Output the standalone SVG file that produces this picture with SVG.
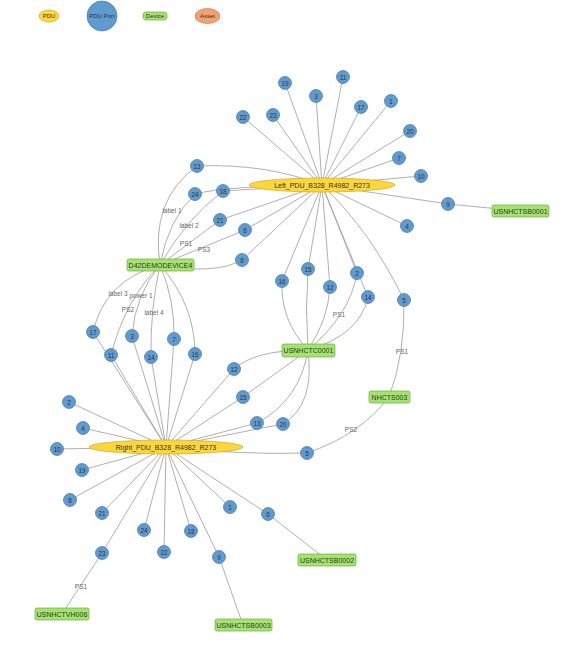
<svg xmlns="http://www.w3.org/2000/svg" width="570" height="658" viewBox="0 0 570 658">
<style>
.e{fill:none;stroke:#9a9a9a;stroke-width:0.8}
.p circle{fill:#5f9bd1;stroke:#44739f;stroke-width:0.7}
.pdu ellipse{fill:#fdd73a;stroke:#c9aa30;stroke-width:0.7}
.dev rect{fill:#a3e46c;stroke:#74a84a;stroke-width:0.7}
text{font-family:"Liberation Sans",Arial,sans-serif;fill:#333;text-anchor:middle;dominant-baseline:central}
.p text{font-size:6.5px}
.dev text,.pdu text{font-size:7px}
.lbl{font-size:6.5px;fill:#666}
.lg{font-size:6px}
</style>
<rect width="570" height="658" fill="#fff"/>
<g id="legend">
<ellipse cx="49" cy="16" rx="10" ry="6" fill="#fdd73a" stroke="#c9aa30" stroke-width="0.7"/>
<text class="lg" x="49" y="16">PDU</text>
<circle cx="102" cy="16" r="15" fill="#5f9bd1" stroke="#44739f" stroke-width="0.7"/>
<text class="lg" x="102" y="16">PDU Port</text>
<rect x="143" y="12" width="24" height="8" rx="3" fill="#a3e46c" stroke="#74a84a" stroke-width="0.7"/>
<text class="lg" x="155" y="16">Device</text>
<ellipse cx="207.5" cy="16" rx="12.5" ry="7.5" fill="#f4a070" stroke="#c98060" stroke-width="0.7"/>
<text class="lg" x="207.5" y="16">Asset</text>
</g>
<g id="connectors">
<!-- Left PDU star -->
<path class="e" d="M322,185L285,83M322,185L343,77M322,185L316,96M322,185L361,107M322,185L391,101M322,185L243,117M322,185L273,115M322,185L410,131M322,185L399,158M322,185L421,176"/>
<path class="e" d="M197,166Q265,163 322,185"/>
<path class="e" d="M195,194Q225,186 322,185"/>
<path class="e" d="M223,191L322,185"/>
<path class="e" d="M322,185L220,220M322,185L245,230M322,185L242,260M322,185L282,281M322,185L308,269M322,185L330,287M322,185L357,273M322,185L368,297M322,185Q370,230 404,300M322,185L407,226M322,185L448,204"/>
<path class="e" d="M448,204L520,211"/>
<!-- Device D42 -->
<path class="e" d="M160,265Q150,200 197,166"/>
<path class="e" d="M160,265Q168,220 195,194"/>
<path class="e" d="M160,265Q185,220 223,191"/>
<path class="e" d="M160,265L220,220"/>
<path class="e" d="M160,265L245,230"/>
<path class="e" d="M160,265Q215,275 242,260"/>
<path class="e" d="M160,265Q105,280 93,332"/>
<path class="e" d="M160,265Q125,300 111,355"/>
<path class="e" d="M160,265Q135,295 132,336"/>
<path class="e" d="M160,265Q150,310 151,357"/>
<path class="e" d="M160,265Q175,300 174,339"/>
<path class="e" d="M160,265Q195,305 195,354"/>
<!-- Right PDU star -->
<path class="e" d="M166,447L93,332M166,447L111,355M166,447L132,336M166,447L151,357M166,447L174,339M166,447L195,354"/>
<path class="e" d="M166,447L69,402M166,447L83,428M166,447L57,449M166,447L82,470M166,447L70,500M166,447L102,513M166,447L102,553M166,447L144,530M166,447L164,552M166,447L191,531M166,447L219,557M166,447L230,507M166,447L268,514"/>
<path class="e" d="M166,447L234,369M166,447L243,397M166,447L257,423M166,447L283,424"/>
<path class="e" d="M166,447Q240,455 307,453"/>
<!-- USNHCTC0001 -->
<path class="e" d="M308,350Q280,320 282,281"/>
<path class="e" d="M308,350Q305,310 308,269"/>
<path class="e" d="M308,350Q328,320 330,287"/>
<path class="e" d="M308,350Q350,315 357,273"/>
<path class="e" d="M308,350Q360,335 368,297"/>
<path class="e" d="M308,350Q255,350 234,369"/>
<path class="e" d="M308,350L243,397"/>
<path class="e" d="M308,350Q300,400 257,423"/>
<path class="e" d="M308,350Q315,405 283,424"/>
<!-- NHCTS003 -->
<path class="e" d="M404,300Q405,355 389,397"/>
<path class="e" d="M307,453Q360,435 389,397"/>
<!-- bottom devices -->
<path class="e" d="M102,553L62,614"/>
<path class="e" d="M219,557L243,625"/>
<path class="e" d="M268,514L327,560"/>
</g>
<g id="edge-labels">
<text class="lbl" x="172" y="210">label 1</text>
<text class="lbl" x="189" y="225">label 2</text>
<text class="lbl" x="186" y="243">PS1</text>
<text class="lbl" x="204" y="249">PS3</text>
<text class="lbl" x="118" y="293">label 3</text>
<text class="lbl" x="141" y="295">power 1</text>
<text class="lbl" x="128" y="309">PS2</text>
<text class="lbl" x="154" y="312">label 4</text>
<text class="lbl" x="339" y="314">PS1</text>
<text class="lbl" x="402" y="351">PS1</text>
<text class="lbl" x="351" y="429">PS2</text>
<text class="lbl" x="81" y="586">PS1</text>
</g>
<g id="pdu-left" class="pdu"><ellipse cx="322" cy="185" rx="73" ry="7"/><text x="322" y="185">Left_PDU_B328_R4982_R273</text></g>
<g id="pdu-right" class="pdu"><ellipse cx="166" cy="447" rx="77" ry="7"/><text x="166" y="447">Right_PDU_B328_R4982_R273</text></g>
<g id="dev-d42" class="dev"><rect x="127" y="259" width="67" height="12" rx="2"/><text x="160.5" y="265">D42DEMODEVICE4</text></g>
<g id="dev-usnhctsb0001" class="dev"><rect x="492" y="205" width="57" height="12" rx="2"/><text x="520.5" y="211">USNHCTSB0001</text></g>
<g id="dev-usnhctc0001" class="dev"><rect x="282" y="344" width="53" height="13" rx="2"/><text x="308.5" y="350.5">USNHCTC0001</text></g>
<g id="dev-nhcts003" class="dev"><rect x="369" y="391" width="41" height="12" rx="2"/><text x="389.5" y="397">NHCTS003</text></g>
<g id="dev-usnhctsb0002" class="dev"><rect x="298" y="554" width="58" height="12" rx="2"/><text x="327" y="560">USNHCTSB0002</text></g>
<g id="dev-usnhctsb0003" class="dev"><rect x="215" y="619" width="57" height="12" rx="2"/><text x="243.5" y="625">USNHCTSB0003</text></g>
<g id="dev-usnhctvh006" class="dev"><rect x="35" y="608" width="54" height="12" rx="2"/><text x="62" y="614">USNHCTVH006</text></g>
<g id="lp19" class="p"><circle cx="285" cy="83" r="6.5"/><text x="285" y="83">19</text></g>
<g id="lp11" class="p"><circle cx="343" cy="77" r="6.5"/><text x="343" y="77">11</text></g>
<g id="lp3" class="p"><circle cx="316" cy="96" r="6.5"/><text x="316" y="96">3</text></g>
<g id="lp17" class="p"><circle cx="361" cy="107" r="6.5"/><text x="361" y="107">17</text></g>
<g id="lp1" class="p"><circle cx="391" cy="101" r="6.5"/><text x="391" y="101">1</text></g>
<g id="lp22" class="p"><circle cx="243" cy="117" r="6.5"/><text x="243" y="117">22</text></g>
<g id="lp23" class="p"><circle cx="273" cy="115" r="6.5"/><text x="273" y="115">23</text></g>
<g id="lp20" class="p"><circle cx="410" cy="131" r="6.5"/><text x="410" y="131">20</text></g>
<g id="lp7" class="p"><circle cx="399" cy="158" r="6.5"/><text x="399" y="158">7</text></g>
<g id="lp10" class="p"><circle cx="421" cy="176" r="6.5"/><text x="421" y="176">10</text></g>
<g id="lp13" class="p"><circle cx="197" cy="166" r="6.5"/><text x="197" y="166">13</text></g>
<g id="lp24" class="p"><circle cx="195" cy="194" r="6.5"/><text x="195" y="194">24</text></g>
<g id="lp18" class="p"><circle cx="223" cy="191" r="6.5"/><text x="223" y="191">18</text></g>
<g id="lp21" class="p"><circle cx="220" cy="220" r="6.5"/><text x="220" y="220">21</text></g>
<g id="lp6" class="p"><circle cx="245" cy="230" r="6.5"/><text x="245" y="230">6</text></g>
<g id="lp8" class="p"><circle cx="242" cy="260" r="6.5"/><text x="242" y="260">8</text></g>
<g id="lp9" class="p"><circle cx="448" cy="204" r="6.5"/><text x="448" y="204">9</text></g>
<g id="lp4" class="p"><circle cx="407" cy="226" r="6.5"/><text x="407" y="226">4</text></g>
<g id="lp16" class="p"><circle cx="282" cy="281" r="6.5"/><text x="282" y="281">16</text></g>
<g id="lp15" class="p"><circle cx="308" cy="269" r="6.5"/><text x="308" y="269">15</text></g>
<g id="lp12" class="p"><circle cx="330" cy="287" r="6.5"/><text x="330" y="287">12</text></g>
<g id="lp2" class="p"><circle cx="357" cy="273" r="6.5"/><text x="357" y="273">2</text></g>
<g id="lp14" class="p"><circle cx="368" cy="297" r="6.5"/><text x="368" y="297">14</text></g>
<g id="lp5" class="p"><circle cx="404" cy="300" r="6.5"/><text x="404" y="300">5</text></g>
<g id="rp17" class="p"><circle cx="93" cy="332" r="6.5"/><text x="93" y="332">17</text></g>
<g id="rp11" class="p"><circle cx="111" cy="355" r="6.5"/><text x="111" y="355">11</text></g>
<g id="rp3" class="p"><circle cx="132" cy="336" r="6.5"/><text x="132" y="336">3</text></g>
<g id="rp14" class="p"><circle cx="151" cy="357" r="6.5"/><text x="151" y="357">14</text></g>
<g id="rp7" class="p"><circle cx="174" cy="339" r="6.5"/><text x="174" y="339">7</text></g>
<g id="rp16" class="p"><circle cx="195" cy="354" r="6.5"/><text x="195" y="354">16</text></g>
<g id="rp12" class="p"><circle cx="234" cy="369" r="6.5"/><text x="234" y="369">12</text></g>
<g id="rp15" class="p"><circle cx="243" cy="397" r="6.5"/><text x="243" y="397">15</text></g>
<g id="rp13" class="p"><circle cx="257" cy="423" r="6.5"/><text x="257" y="423">13</text></g>
<g id="rp20" class="p"><circle cx="283" cy="424" r="6.5"/><text x="283" y="424">20</text></g>
<g id="rp5" class="p"><circle cx="307" cy="453" r="6.5"/><text x="307" y="453">5</text></g>
<g id="rp2" class="p"><circle cx="69" cy="402" r="6.5"/><text x="69" y="402">2</text></g>
<g id="rp4" class="p"><circle cx="83" cy="428" r="6.5"/><text x="83" y="428">4</text></g>
<g id="rp10" class="p"><circle cx="57" cy="449" r="6.5"/><text x="57" y="449">10</text></g>
<g id="rp19" class="p"><circle cx="82" cy="470" r="6.5"/><text x="82" y="470">19</text></g>
<g id="rp8" class="p"><circle cx="70" cy="500" r="6.5"/><text x="70" y="500">8</text></g>
<g id="rp21" class="p"><circle cx="102" cy="513" r="6.5"/><text x="102" y="513">21</text></g>
<g id="rp23" class="p"><circle cx="102" cy="553" r="6.5"/><text x="102" y="553">23</text></g>
<g id="rp24" class="p"><circle cx="144" cy="530" r="6.5"/><text x="144" y="530">24</text></g>
<g id="rp22" class="p"><circle cx="164" cy="552" r="6.5"/><text x="164" y="552">22</text></g>
<g id="rp18" class="p"><circle cx="191" cy="531" r="6.5"/><text x="191" y="531">18</text></g>
<g id="rp9" class="p"><circle cx="219" cy="557" r="6.5"/><text x="219" y="557">9</text></g>
<g id="rp1" class="p"><circle cx="230" cy="507" r="6.5"/><text x="230" y="507">1</text></g>
<g id="rp6" class="p"><circle cx="268" cy="514" r="6.5"/><text x="268" y="514">6</text></g>
</svg>
